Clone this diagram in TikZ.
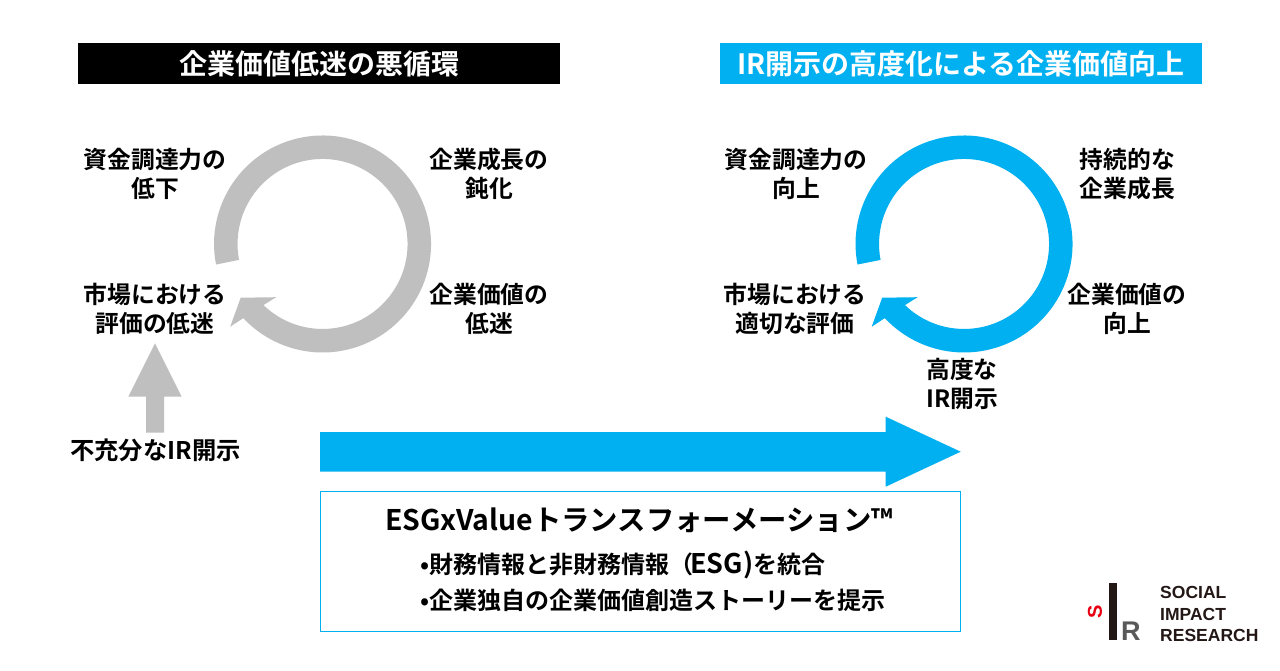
\documentclass[tikz,border=0pt]{standalone}
\usepackage{fontspec}
\setmainfont{Noto Sans CJK JP}[BoldFont={* Bold}]
\newfontfamily\logofont{Liberation Sans}[BoldFont={Liberation Sans Bold}]
\definecolor{irblue}{HTML}{00B0F0}
\definecolor{irgray}{HTML}{BFBFBF}
\definecolor{logoink}{HTML}{231815}
\definecolor{logored}{HTML}{E60012}
\definecolor{logogray}{HTML}{595959}
\tikzset{
  lbl/.style={align=center,font=\fontsize{23.8}{29}\selectfont\bfseries,text=black,inner sep=0pt},
  hdr/.style={minimum width=482pt,minimum height=41pt,inner sep=0pt,text=white,font=\fontsize{28}{30}\selectfont\bfseries},
  bodytxt/.style={anchor=west,inner sep=0pt,font=\fontsize{24}{28}\selectfont\bfseries,text=black},
  logotxt/.style={anchor=west,inner sep=0pt,font=\logofont\fontsize{17.5}{17.5}\selectfont\bfseries,text=logoink}
}
\begin{document}
\begin{tikzpicture}[x=1pt,y=-1pt]
\useasboundingbox (0,0) rectangle (1280,670);
\fill[white] (0,0) rectangle (1280,670);
% headers
\node[hdr,fill=black] (h1) at (319,63.5) {企業価値低迷の悪循環};
\node[hdr,fill=irblue] (h2) at (961,63.5) {IR開示の高度化による企業価値向上};
% rings
\foreach \cx/\col in {322.5/irgray,964/irblue}{
  \fill[\col] ({\cx-106.5},264.5)
    arc[start angle=190.9,delta angle=-327.8,radius=108.5pt]
    -- ({\cx-92.3},326.7) -- ({\cx-81.8},297.7) -- ({\cx-46.5},297.2) -- ({\cx-59},305.1)
    arc[start angle=-134,delta angle=324.8,radius=85pt]
    -- cycle;
}
% left labels
\node[lbl] (a1) at (155,173.5) {資金調達力の\\低下};
\node[lbl] (a2) at (489,173.5) {企業成長の\\鈍化};
\node[lbl] (a3) at (155,308.5) {市場における\\評価の低迷};
\node[lbl] (a4) at (489,308.5) {企業価値の\\低迷};
% right labels
\node[lbl] (b1) at (796,173.5) {資金調達力の\\向上};
\node[lbl] (b2) at (1127.5,174) {持続的な\\企業成長};
\node[lbl] (b3) at (795,308.5) {市場における\\適切な評価};
\node[lbl] (b4) at (1127,309) {企業価値の\\向上};
\node[lbl] (b5) at (962,384) {高度な\\IR開示};
% arrows
\fill[irgray] (155,343.3) -- (181.7,396.7) -- (164,396.7) -- (164,432.7) -- (146,432.7) -- (146,396.7) -- (128.3,396.7) -- cycle;
\node[lbl,font=\fontsize{24.3}{29}\selectfont\bfseries] (c1) at (155.5,450.5) {不充分なIR開示};
\fill[irblue] (320,432) -- (885.7,432) -- (885.7,416.7) -- (960.7,451.7) -- (885.7,486.7) -- (885.7,471.5) -- (320,471.5) -- cycle;
% box
\node[draw=irblue,line width=1pt,minimum width=640pt,minimum height=140pt,inner sep=0pt] (box) at (640.5,561) {};
\node[bodytxt,font=\fontsize{28.4}{30}\selectfont\bfseries] (t1) at (385,520.5) {ESGxValueトランスフォーメーション™};
\node[bodytxt] (t2) at (420,565) {•財務情報と非財務情報（\hspace{-3pt}{\fontsize{27}{28}\selectfont ESG)}を統合};
\node[bodytxt] (t3) at (420,600) {•企業独自の企業価値創造ストーリーを提示};
% logo
\fill[logoink] (1109.3,583.3) rectangle (1116.7,640);
\node[inner sep=0pt,text=logogray,anchor=base west,font=\logofont\fontsize{27}{27}\selectfont\bfseries] (lr) at (1121,640) {R};
\node[inner sep=0pt,text=logored,rotate=90,font=\logofont\fontsize{20}{20}\selectfont\bfseries] (ls) at (1095,611.5) {S};
\node[logotxt] (l1) at (1160,592.5) {SOCIAL};
\node[logotxt] (l2) at (1160,614) {IMPACT};
\node[logotxt] (l3) at (1160,635) {RESEARCH};
\end{tikzpicture}
\end{document}
